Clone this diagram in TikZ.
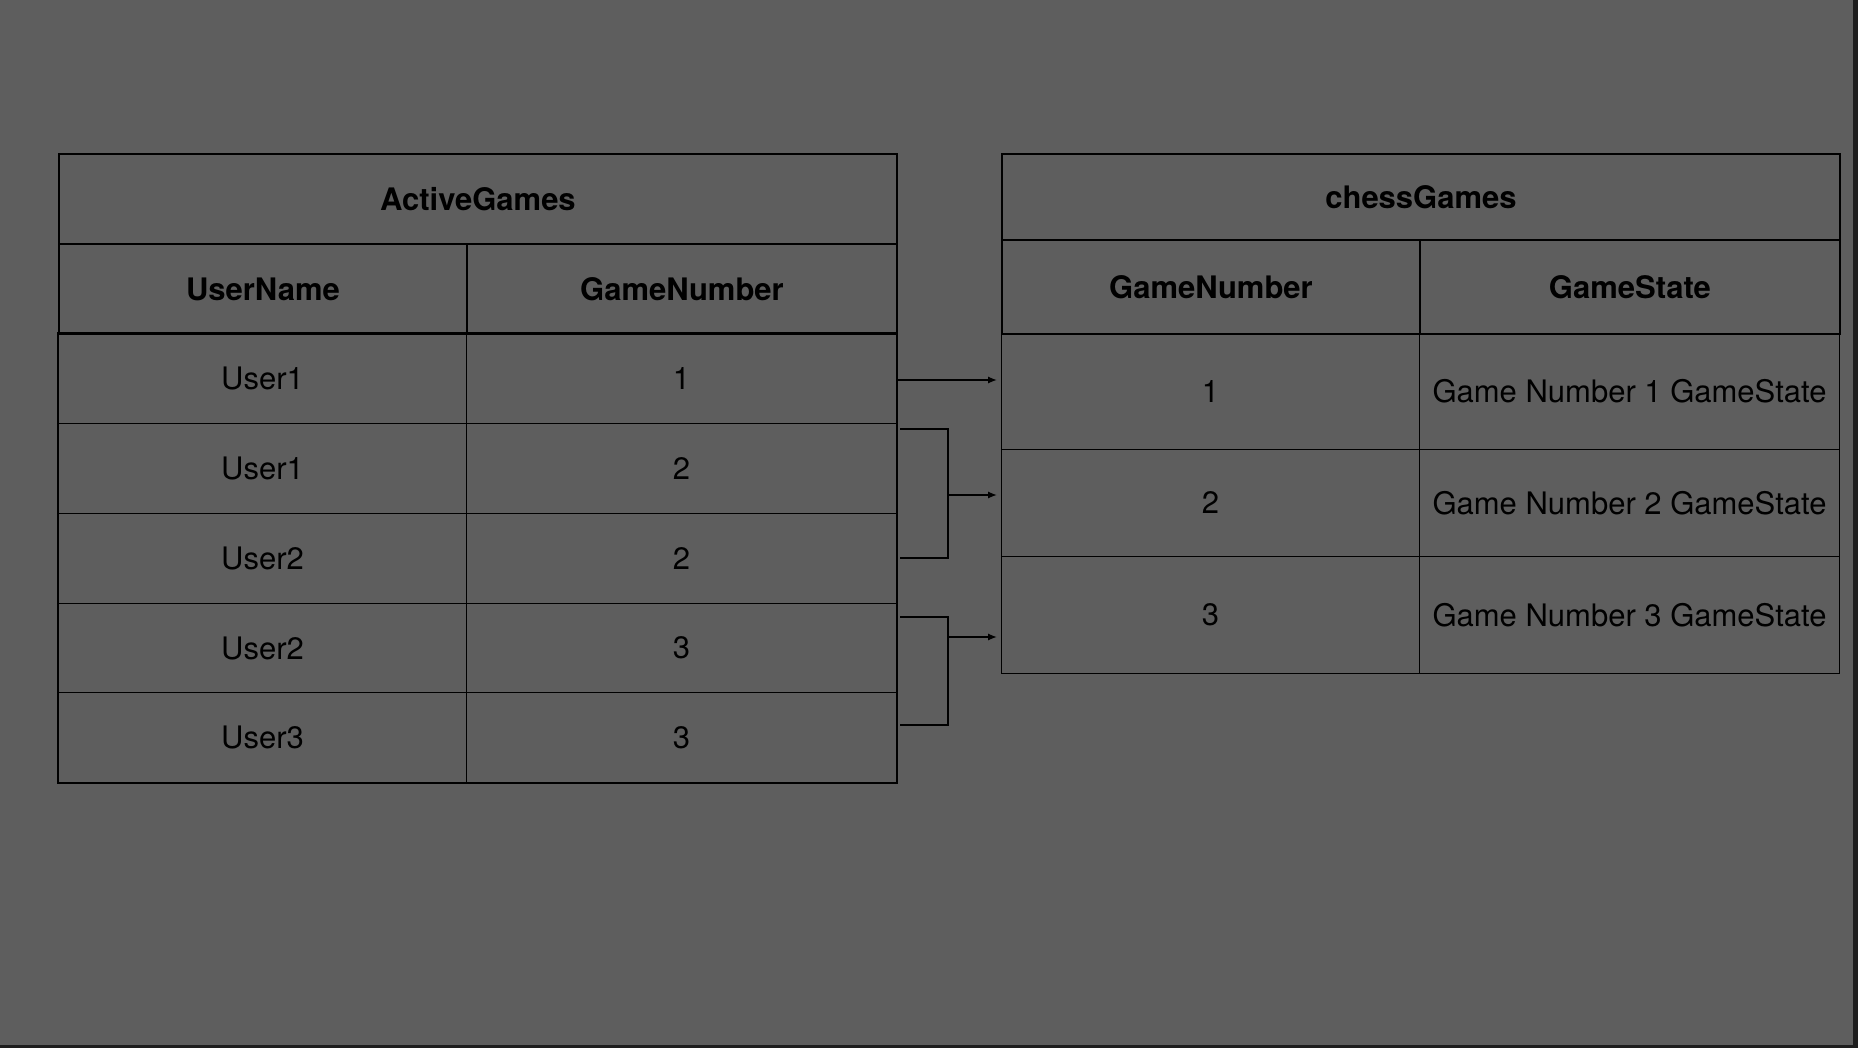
\documentclass[tikz,border=0pt]{standalone}
\usepackage{fontspec}
\setmainfont{TeX Gyre Heros}
\usetikzlibrary{arrows.meta}
\definecolor{bggray}{HTML}{5E5E5E}
\definecolor{edgedark}{HTML}{1E1E1E}
\tikzset{
	cell/.style={draw=black, line width=0.5pt, anchor=north west, inner sep=0pt,
		font=\fontsize{15.5}{18}\selectfont},
	headcell/.style={cell, line width=0.95pt, font=\fontsize{15.5}{18}\selectfont\bfseries},
	link/.style={draw=black, line width=0.8pt},
	linkarrow/.style={link, -{Latex[length=4.5pt, width=3.6pt]}, shorten >=2pt},
}
\begin{document}
\begin{tikzpicture}[x=0.5pt, y=-0.5pt]
	\fill [bggray] (0,0) rectangle (1858,1048);
	\fill [edgedark] (0,1045) rectangle (1858,1048);
	\fill [edgedark] (1853,0) rectangle (1858,1048);
	% ActiveGames
	\foreach \i/\u/\g in {1/User1/1,2/User1/2,3/User2/2,4/User2/3,5/User3/3}{
		\node [cell, minimum width=204pt, minimum height=44.93pt] (u\i) at (58,{333+89.86*(\i-1)}) {\u};
		\node [cell, minimum width=215pt, minimum height=44.93pt] (g\i) at (466,{333+89.86*(\i-1)}) {\g};
	}
	\draw [line width=0.7pt] (u1.north west) rectangle (g5.south east);
	\node [headcell, minimum width=419pt, minimum height=45pt] (active) at (58,153) {ActiveGames};
	\node [headcell, minimum width=204pt, minimum height=45pt] (uname) at (58,243) {UserName};
	\node [headcell, minimum width=215pt, minimum height=45pt] (gnum) at (466,243) {GameNumber};
	% chessGames
	\node [cell, minimum width=209pt, minimum height=58pt] (n1) at (1001,333) {1};
	\node [cell, minimum width=210pt, minimum height=58pt] (s1) at (1419,333) {Game Number 1 GameState};
	\node [cell, minimum width=209pt, minimum height=53.5pt] (n2) at (1001,449) {2};
	\node [cell, minimum width=210pt, minimum height=53.5pt] (s2) at (1419,449) {Game Number 2 GameState};
	\node [cell, minimum width=209pt, minimum height=58.5pt] (n3) at (1001,556) {3};
	\node [cell, minimum width=210pt, minimum height=58.5pt] (s3) at (1419,556) {Game Number 3 GameState};
	\node [headcell, minimum width=419pt, minimum height=43pt] (chess) at (1001,153) {chessGames};
	\node [headcell, minimum width=209pt, minimum height=47pt] (cnum) at (1001,239) {GameNumber};
	\node [headcell, minimum width=210pt, minimum height=47pt] (cstate) at (1419,239) {GameState};
	% links
	\coordinate (a1) at (898,380);
	\coordinate (b1) at (900,429);
	\coordinate (b2) at (900,558);
	\coordinate (j1) at (948,495);
	\coordinate (c1) at (900,617);
	\coordinate (c2) at (900,725);
	\coordinate (j2) at (948,637);
	\draw [linkarrow] (a1) -- (a1 -| n1.west);
	\draw [link] (b1) -| (j1) |- (b2);
	\draw [linkarrow] (j1) -- (j1 -| n2.west);
	\draw [link] (c1) -| (j2) |- (c2);
	\draw [linkarrow] (j2) -- (j2 -| n3.west);
\end{tikzpicture}
\end{document}
